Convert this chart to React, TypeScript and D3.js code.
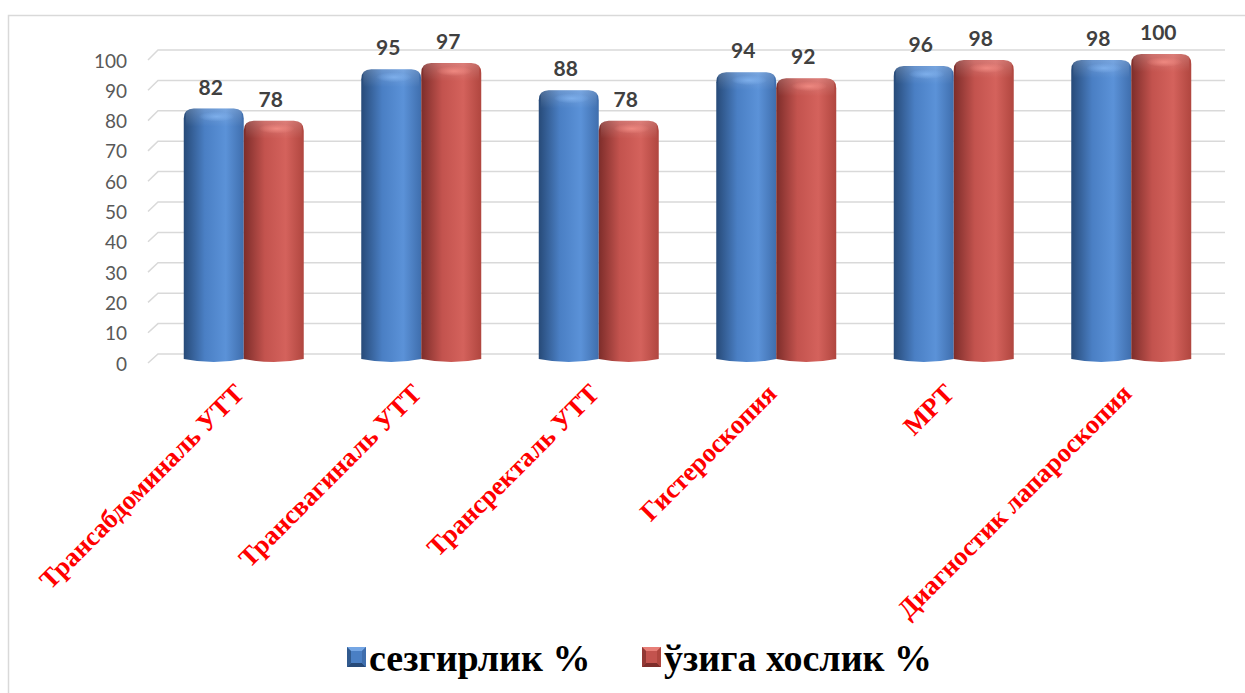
import React from "react";
import * as d3 from "d3";

// Diagnostic methods and their sensitivity / specificity, %
const categories = [
  "Трансабдоминаль УТТ",
  "Трансвагиналь УТТ",
  "Трансректаль УТТ",
  "Гистероскопия",
  "МРТ",
  "Диагностик лапароскопия",
];
const seriesNames = ["сезгирлик %", "ўзига хослик %"];
const sensitivity = [82, 95, 88, 94, 96, 98];
const specificity = [78, 97, 78, 92, 98, 100];
const yTicks = [0, 10, 20, 30, 40, 50, 60, 70, 80, 90, 100];

const W = 1245;
const H = 693;

const palette = [
  { dark: "#274a78", mid: "#4a7fc4", light: "#5b92d8", edge: "#3f6ead", cap: "#7fb0ec" },
  { dark: "#7d2d2a", mid: "#c3534e", light: "#d4625c", edge: "#b0463f", cap: "#f08a82" },
];

export default function App() {
  const x0 = d3
    .scaleBand<string>()
    .domain(categories)
    .range([155, 1220])
    .paddingInner(0.324)
    .paddingOuter(0.162);
  const x1 = d3.scaleBand<number>().domain([0, 1]).range([0, x0.bandwidth()]);

  // back wall (gridlines), front edge (tick labels), bar tops
  const yBack = d3.scaleLinear().domain([0, 100]).range([354, 50]);
  const yFront = d3.scaleLinear().domain([0, 100]).range([363, 60]);
  const yBar = d3.scaleLinear().domain([0, 100]).range([357, 54]);
  const baseY = 359;

  const frontX = 148;
  const backX = 158;
  const rightX = 1225;

  const series = [sensitivity, specificity];
  const bw = x1.bandwidth();
  const r = 10;

  const barPath = (x: number, top: number) => {
    const p = d3.path();
    p.moveTo(x, baseY);
    p.lineTo(x, top + r);
    p.quadraticCurveTo(x, top, x + r, top);
    p.lineTo(x + bw - r, top);
    p.quadraticCurveTo(x + bw, top, x + bw, top + r);
    p.lineTo(x + bw, baseY);
    p.quadraticCurveTo(x + bw / 2, baseY + 6, x, baseY);
    p.closePath();
    return p.toString();
  };

  return (
    <svg
      width={W}
      height={H}
      style={{ position: "absolute", left: 0, top: 0, background: "#fff" }}
    >
      <defs>
        {palette.map((c, i) => (
          <linearGradient key={i} id={`body${i}`} x1="0" x2="1" y1="0" y2="0">
            <stop offset="0" stopColor={c.dark} />
            <stop offset="0.35" stopColor={c.mid} />
            <stop offset="0.7" stopColor={c.light} />
            <stop offset="1" stopColor={c.edge} />
          </linearGradient>
        ))}
        {palette.map((c, i) => (
          <radialGradient key={i} id={`cap${i}`} cx="0.5" cy="0.5" r="0.5">
            <stop offset="0" stopColor={c.cap} stopOpacity="0.95" />
            <stop offset="1" stopColor={c.cap} stopOpacity="0" />
          </radialGradient>
        ))}
        <linearGradient id="topShade" x1="0" x2="0" y1="0" y2="1">
          <stop offset="0" stopColor="#ffffff" stopOpacity="0.18" />
          <stop offset="1" stopColor="#ffffff" stopOpacity="0" />
        </linearGradient>
      </defs>

      {/* outer frame */}
      <rect x={8.5} y={15.5} width={W} height={H} fill="none" stroke="#d9d9d9" strokeWidth={1.5} />

      {/* gridlines on the back wall with the floor perspective stub */}
      {yTicks.map((t) => (
        <path
          key={t}
          d={`M${frontX},${yFront(t)}L${backX},${yBack(t)}L${rightX},${yBack(t)}`}
          fill="none"
          stroke="#d9d9d9"
          strokeWidth={1.5}
        />
      ))}

      {/* y tick labels */}
      {yTicks.map((t) => (
        <text
          key={t}
          x={127}
          y={yFront(t)}
          textAnchor="end"
          dominantBaseline="central"
          fontFamily="Lato, 'Open Sans', sans-serif"
          fontSize={19}
          fill="#595959"
        >
          {t}
        </text>
      ))}

      {/* cylinder bars */}
      {categories.map((cat, ci) =>
        series.map((vals, si) => {
          const x = (x0(cat) as number) + (x1(si) as number);
          const top = yBar(vals[ci]);
          return (
            <g key={`${cat}-${si}`}>
              <path d={barPath(x, top)} fill={`url(#body${si})`} />
              <rect x={x + 2} y={top} width={bw - 4} height={18} fill="url(#topShade)" />
              <ellipse
                cx={x + bw * 0.55}
                cy={top + 8}
                rx={bw * 0.3}
                ry={5}
                fill={`url(#cap${si})`}
              />
            </g>
          );
        })
      )}

      {/* value labels */}
      {categories.map((cat, ci) =>
        series.map((vals, si) => {
          const x = (x0(cat) as number) + (x1(si) as number) + bw / 2 - 3;
          return (
            <text
              key={`${cat}-l${si}`}
              x={x}
              y={yBar(vals[ci]) - 14}
              textAnchor="middle"
              fontFamily="Lato, 'Open Sans', sans-serif"
              fontWeight="bold"
              fontSize={21}
              fill="#404040"
            >
              {vals[ci]}
            </text>
          );
        })
      )}

      {/* category labels */}
      {categories.map((cat) => {
        const cx = (x0(cat) as number) + x0.bandwidth() / 2 + 2;
        const cy = 395;
        return (
          <text
            key={cat}
            transform={`translate(${cx},${cy}) rotate(-45)`}
            textAnchor="end"
            fontFamily="'Liberation Serif', 'Times New Roman', serif"
            fontWeight="bold"
            fontSize={26.5}
            fill="#ff0000"
          >
            {cat}
          </text>
        );
      })}

      {/* legend */}
      {seriesNames.map((name, si) => {
        const mx = si === 0 ? 347 : 642;
        const my = 647;
        const s = 19;
        const c = palette[si];
        const inset = 4;
        return (
          <g key={name}>
            <rect x={mx} y={my} width={s} height={s + 1} fill={c.mid} />
            <polygon
              points={`${mx},${my} ${mx + s},${my} ${mx + s - inset},${my + inset} ${mx + inset},${my + inset}`}
              fill={c.cap}
              opacity={0.8}
            />
            <polygon
              points={`${mx},${my} ${mx + inset},${my + inset} ${mx + inset},${my + s + 1 - inset} ${mx},${my + s + 1}`}
              fill={c.dark}
              opacity={0.7}
            />
            <polygon
              points={`${mx},${my + s + 1} ${mx + inset},${my + s + 1 - inset} ${mx + s - inset},${my + s + 1 - inset} ${mx + s},${my + s + 1}`}
              fill={c.dark}
            />
            <polygon
              points={`${mx + s},${my} ${mx + s},${my + s + 1} ${mx + s - inset},${my + s + 1 - inset} ${mx + s - inset},${my + inset}`}
              fill={c.edge}
            />
            <text
              x={mx + s + 3}
              y={671}
              fontFamily="'Liberation Serif', 'Times New Roman', serif"
              fontWeight="bold"
              fontSize={38}
              fill="#000"
            >
              {name}
            </text>
          </g>
        );
      })}
    </svg>
  );
}
